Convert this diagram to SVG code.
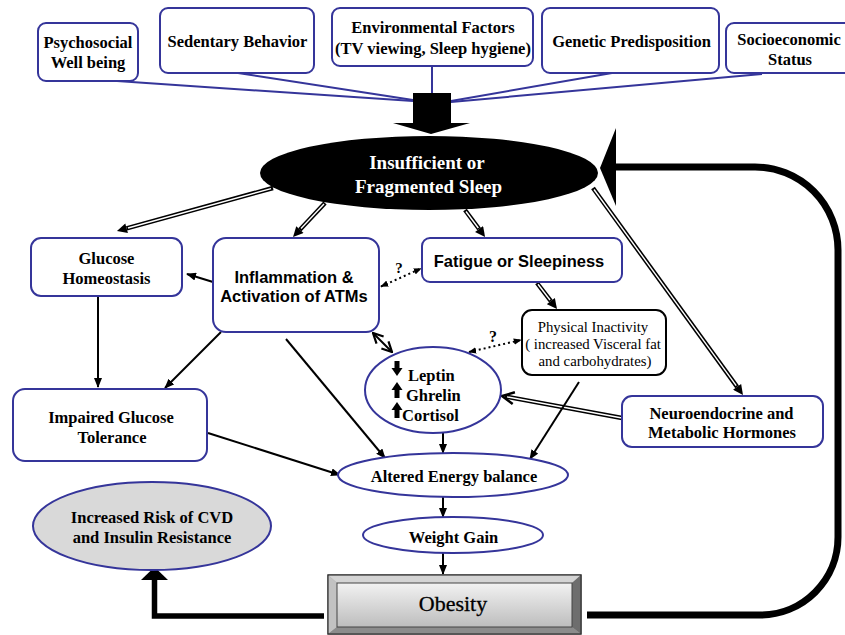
<svg xmlns="http://www.w3.org/2000/svg" width="845" height="635" viewBox="0 0 845 635">
<style>
.bx{fill:#fff;stroke:#35359a;stroke-width:2}
.bk{fill:#fff;stroke:#000;stroke-width:2}
.sf{font-family:"Liberation Serif","Times New Roman",serif;font-weight:bold;font-size:16.5px;fill:#000;text-anchor:middle}
.ss{font-family:"Liberation Sans",Arial,sans-serif;font-weight:bold;font-size:16.5px;fill:#000;text-anchor:middle}
.sr{font-family:"Liberation Serif","Times New Roman",serif;font-size:14.8px;fill:#000;text-anchor:middle}
.tl{stroke:#35359a;stroke-width:2;fill:none}
.dlo{stroke:#000;stroke-width:4.5;fill:none}
.dli{stroke:#fff;stroke-width:1.4;fill:none}
.sl{stroke:#000;stroke-width:2;fill:none}
.dt{stroke:#000;stroke-width:2;fill:none;stroke-dasharray:2 3}
</style>
<defs>
<marker id="ah" viewBox="0 0 10 10" refX="0" refY="5" markerWidth="11" markerHeight="10" markerUnits="userSpaceOnUse" orient="auto"><path d="M0,0 L10,5 L0,10 z" fill="#000"/></marker>
<marker id="as" viewBox="0 0 10 8" refX="9" refY="4" markerWidth="10" markerHeight="8" markerUnits="userSpaceOnUse" orient="auto"><path d="M0,0 L10,4 L0,8 z" fill="#000"/></marker>
<marker id="ad" viewBox="0 0 10 8" refX="9" refY="4" markerWidth="8" markerHeight="7" markerUnits="userSpaceOnUse" orient="auto-start-reverse"><path d="M0,0 L10,4 L0,8 z" fill="#000"/></marker>
<marker id="av" viewBox="0 0 12 12" refX="11" refY="6" markerWidth="12" markerHeight="12" markerUnits="userSpaceOnUse" orient="auto-start-reverse"><path d="M1,1 L11,6 L1,11" fill="none" stroke="#000" stroke-width="2.2"/></marker>
<linearGradient id="og" x1="0" y1="0" x2="0" y2="1"><stop offset="0" stop-color="#f2f2f2"/><stop offset="1" stop-color="#bdbdbd"/></linearGradient>
</defs>

<g id="connectors">
<path class="tl" d="M117,81 L413,101"/>
<path class="tl" d="M238,73 L413,100"/>
<path class="tl" d="M432,66 L432,95"/>
<path class="tl" d="M612,73 L451,101"/>
<path class="tl" d="M762,74 L451,102"/>
<path d="M413,93 H451 V123 H470 L431,134 L393,123 H413 Z" fill="#000"/>
<path class="dlo" d="M273,188 L126.6,228.3" marker-end="url(#ah)"/>
<path class="dli" d="M271,188.6 L128,228"/>
<path class="dlo" d="M325,203 L299.9,229.7" marker-end="url(#ah)"/>
<path class="dli" d="M324,204 L301,228.5"/>
<path class="dlo" d="M465,210 L479.1,229" marker-end="url(#ah)"/>
<path class="dli" d="M466,211.5 L478.3,228"/>
<path class="dlo" d="M593,188 L737.1,386.9" marker-end="url(#ah)"/>
<path class="dli" d="M594,189.5 L736.2,385.6"/>
<path class="dlo" d="M537,283 L550.9,301.1" marker-end="url(#ah)"/>
<path class="dli" d="M538,284.3 L550,300"/>
<path class="dlo" d="M622,418 L505,396.5"/>
<path class="dli" d="M622,418 L507,396.9"/>
<polyline points="514.9,392.3 502,396 512.7,404.1" fill="none" stroke="#000" stroke-width="2.5"/>
<path class="sl" d="M213,282 L187,274" marker-end="url(#as)"/>
<path class="sl" d="M98,296 L98,387" marker-end="url(#as)"/>
<path class="sl" d="M221,332 L165,388" marker-end="url(#as)"/>
<path class="sl" d="M286,339 L385,458" marker-end="url(#as)"/>
<path class="sl" d="M208,433 L340,475" marker-end="url(#as)"/>
<path class="sl" d="M443,433 L443,453" marker-end="url(#as)"/>
<path class="sl" d="M443,497 L443,517" marker-end="url(#as)"/>
<path class="sl" d="M443,553 L443,574" marker-end="url(#as)"/>
<path class="sl" d="M579,382 L530,459" marker-end="url(#as)"/>
<path class="sl" d="M373,333 L392,352" marker-start="url(#av)" marker-end="url(#av)"/>
<path class="dt" d="M381,286.5 L421,268.5" marker-start="url(#ad)" marker-end="url(#ad)"/>
<path class="dt" d="M469,352 L521,340" marker-start="url(#ad)" marker-end="url(#ad)"/>
<text class="sf" x="399" y="273" style="font-size:15px">?</text>
<text class="sf" x="493" y="342" style="font-size:16px">?</text>
<path d="M587,615 H760 A78,78 0 0 0 838,537 V250 A83,83 0 0 0 755,167 H612" fill="none" stroke="#000" stroke-width="7"/>
<polygon points="600,168 616,128 616,206" fill="#000"/>
<path d="M324,616 H154.5 V579" fill="none" stroke="#000" stroke-width="5.5"/>
<polygon points="141,580 168,580 154.5,567" fill="#000"/>
</g>

<g id="n-psychosocial"><rect class="bx" x="38" y="23" width="100" height="58" rx="8"/><text class="sf" x="88" y="48">Psychosocial</text><text class="sf" x="88" y="68">Well being</text></g>
<g id="n-sedentary"><rect class="bx" x="160" y="8" width="154" height="65" rx="8"/><text class="sf" x="237.5" y="47">Sedentary Behavior</text></g>
<g id="n-environmental"><rect class="bx" x="332" y="8" width="201" height="58" rx="8"/><text class="sf" x="433" y="33">Environmental Factors</text><text class="sf" x="433" y="54">(TV viewing, Sleep hygiene)</text></g>
<g id="n-genetic"><rect class="bx" x="542" y="8" width="177" height="65" rx="8"/><text class="sf" x="631.5" y="47">Genetic Predisposition</text></g>
<g id="n-socio"><rect class="bx" x="726" y="23" width="140" height="50" rx="8"/><text class="sf" x="789" y="45">Socioeconomic</text><text class="sf" x="790" y="65">Status</text></g>

<g id="n-sleep"><ellipse cx="429" cy="173" rx="169" ry="37" fill="#000"/><text class="sf" x="427" y="169" style="font-size:19px;fill:#fff">Insufficient or</text><text class="sf" x="428.5" y="193" style="font-size:19px;fill:#fff">Fragmented Sleep</text></g>

<g id="n-glucose"><rect class="bx" x="31" y="238" width="151" height="58" rx="10"/><text class="sf" x="106.5" y="264">Glucose</text><text class="sf" x="106.5" y="284">Homeostasis</text></g>
<g id="n-inflammation"><rect class="bx" x="213" y="238" width="166" height="94" rx="13"/><text class="ss" x="294" y="283">Inflammation &amp;</text><text class="ss" x="294" y="302">Activation of ATMs</text></g>
<g id="n-fatigue"><rect class="bx" x="422" y="238" width="200" height="44" rx="8"/><text class="ss" x="519" y="267">Fatigue or Sleepiness</text></g>
<g id="n-physical"><rect class="bk" x="522" y="310" width="144" height="65" rx="10"/><text class="sr" x="593" y="332">Physical Inactivity</text><text class="sr" x="593" y="349">( increased Visceral fat</text><text class="sr" x="595" y="366">and carbohydrates)</text></g>
<g id="n-hormones"><ellipse class="bx" cx="433" cy="390" rx="68" ry="43"/>
<path d="M394.5,361 H399.5 V368 H402.5 L397,376 L391.5,368 H394.5 Z" fill="#000"/>
<path d="M397,382 L402.5,390 H399.5 V398 H394.5 V390 H391.5 Z" fill="#000"/>
<path d="M397,402 L402.5,410 H399.5 V418 H394.5 V410 H391.5 Z" fill="#000"/>
<text class="sf" x="408" y="381" style="text-anchor:start">Leptin</text><text class="sf" x="406" y="401" style="text-anchor:start">Ghrelin</text><text class="sf" x="402" y="421" style="text-anchor:start">Cortisol</text></g>
<g id="n-neuro"><rect class="bx" x="622" y="396" width="201" height="51" rx="10"/><text class="sf" x="721.5" y="419">Neuroendocrine and</text><text class="sf" x="722" y="438">Metabolic Hormones</text></g>
<g id="n-impaired"><rect class="bx" x="13" y="389" width="194" height="72" rx="12"/><text class="sf" x="111" y="423">Impaired Glucose</text><text class="sf" x="112" y="443">Tolerance</text></g>
<g id="n-altered"><ellipse class="bx" cx="453" cy="475" rx="115" ry="22"/><text class="sf" x="454" y="482">Altered Energy balance</text></g>
<g id="n-risk"><ellipse cx="152" cy="526" rx="119" ry="44" fill="#d9d9d9" stroke="#35359a" stroke-width="2"/><text class="sf" x="152" y="523">Increased Risk of CVD</text><text class="sf" x="152" y="543">and Insulin Resistance</text></g>
<g id="n-weight"><ellipse class="bx" cx="453" cy="535" rx="90" ry="18"/><text class="sf" x="453.5" y="543">Weight Gain</text></g>
<g id="n-obesity">
<rect x="328" y="575" width="253" height="59" fill="#9a9a9a" stroke="#444" stroke-width="1.2"/>
<polygon points="328,575 581,575 572,583 337,583" fill="#d4d4d4"/>
<polygon points="328,575 337,583 337,627 328,634" fill="#c2c2c2"/>
<polygon points="581,575 581,634 572,627 572,583" fill="#6e6e6e"/>
<polygon points="328,634 581,634 572,627 337,627" fill="#8c8c8c"/>
<rect x="337" y="583" width="235" height="44" fill="url(#og)" stroke="#444" stroke-width="1"/>
<rect x="328" y="575" width="253" height="59" fill="none" stroke="#333" stroke-width="1.2"/>
<text class="sr" x="453" y="611" style="font-size:22px;stroke:#000;stroke-width:0.3">Obesity</text></g>
</svg>
